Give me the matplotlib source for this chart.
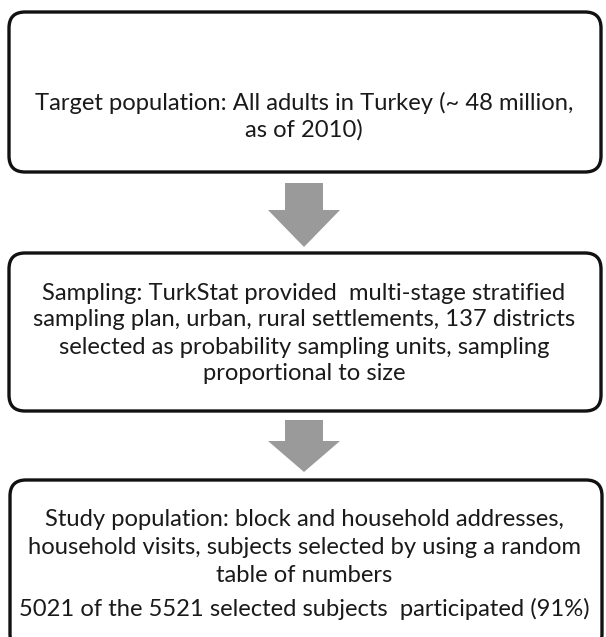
import matplotlib
matplotlib.use("Agg")
import matplotlib.pyplot as plt
from matplotlib.patches import FancyBboxPatch, Polygon

box_texts = [
    ["Target population: All adults in Turkey (~ 48 million,", "as of 2010)"],
    ["Sampling: TurkStat provided  multi-stage stratified",
     "sampling plan, urban, rural settlements, 137 districts",
     "selected as probability sampling units, sampling",
     "proportional to size"],
    ["Study population: block and household addresses,",
     "household visits, subjects selected by using a random",
     "table of numbers"],
]
extra_line = "5021 of the 5521 selected subjects  participated (91%)"

W, H = 606, 637
fig = plt.figure(figsize=(W / 100, H / 100), dpi=100)
ax = fig.add_axes([0, 0, 1, 1])
ax.set_xlim(0, W)
ax.set_ylim(H, 0)
ax.axis("off")

font = dict(family=["Lato", "DejaVu Sans"], fontsize=17.1, color="#1a1a1a",
            ha="center", va="center")

boxes = [(9, 12, 592, 160), (9, 253, 592, 158), (10, 480, 592, 170)]
for (x, y, w, h) in boxes:
    p = FancyBboxPatch((x + 10, y + 10), w - 20, h - 20,
                       boxstyle="round,pad=10,rounding_size=16",
                       fc="white", ec="#111111", lw=2.4)
    ax.add_patch(p)

line_ys = [[103, 130], [293, 320, 347, 374], [520, 548, 575]]
for lines, ys in zip(box_texts, line_ys):
    for t, yy in zip(lines, ys):
        ax.text(W / 2 + 1, yy, t, **font)
ax.text(W / 2 + 1, 609, extra_line, **font)

def arrow(top, base, tip):
    cx = 304
    pts = [(cx - 19, top), (cx + 19, top), (cx + 19, base), (cx + 36, base),
           (cx, tip), (cx - 36, base), (cx - 19, base)]
    ax.add_patch(Polygon(pts, closed=True, fc="#9a9a9a", ec="none"))

arrow(183, 210, 247)
arrow(420, 441, 472)

fig.savefig("out.png", dpi=100)
